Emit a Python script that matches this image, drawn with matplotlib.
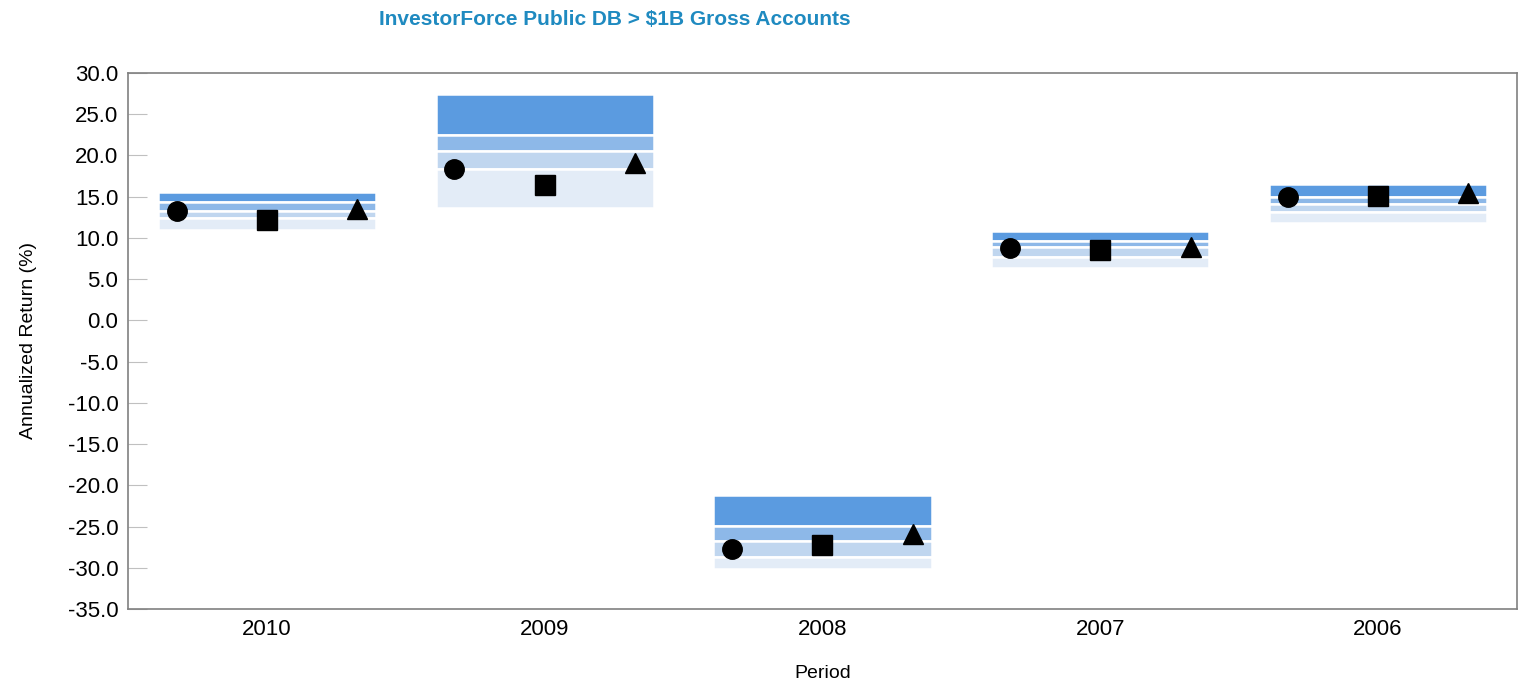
import numpy as np
import matplotlib.pyplot as plt

plt.rcParams['font.family'] = ['Liberation Sans', 'DejaVu Sans']

periods = ['2010', '2009', '2008', '2007', '2006']
# percentile ranges (5th, 25th, median, 75th, 95th)
p05 = [15.6, 27.5, -21.2, 10.8, 16.5]
p25 = [14.4, 22.5, -24.9, 9.6, 15.0]
p50 = [13.3, 20.6, -26.8, 8.85, 14.1]
p75 = [12.4, 18.3, -28.7, 7.7, 13.1]
p95 = [11.0, 13.6, -30.1, 6.3, 11.8]
# portfolio markers
circle_vals = [13.3, 18.4, -27.7, 8.8, 15.0]
square_vals = [12.2, 16.4, -27.2, 8.5, 15.1]
triangle_vals = [13.5, 19.1, -25.9, 8.9, 15.4]

colors = ['#5b9be0', '#8db8e8', '#c0d6ef', '#e3ecf7']

fig = plt.figure(figsize=(15.22, 6.83), dpi=100)
ax = fig.add_axes([0.0841, 0.1084, 0.9126, 0.7847])

x = np.arange(len(periods))
w = 0.785
bands = [(p05, p25), (p25, p50), (p50, p75), (p75, p95)]
for (hi, lo), c in zip(bands, colors):
    hi = np.array(hi)
    lo = np.array(lo)
    ax.bar(x, hi - lo, bottom=lo, width=w, color=c, edgecolor='white', linewidth=1.8, zorder=2)

off = 0.325
ax.plot(x - off, circle_vals, 'o', color='black', ms=14, ls='none', zorder=3)
ax.plot(x, square_vals, 's', color='black', ms=14, ls='none', zorder=3)
ax.plot(x + off, triangle_vals, '^', color='black', ms=15, ls='none', zorder=3)

ax.set_xlim(-0.5, 4.5)
ax.set_ylim(-35, 30)
ax.set_yticks(np.arange(-35, 31, 5))
ax.set_yticklabels(['%.1f' % v for v in np.arange(-35, 31, 5)])
ax.set_xticks(x)
ax.set_xticklabels(periods)
ax.tick_params(axis='y', direction='in', length=14, color='#c0c0c0', labelsize=16, pad=7)
ax.tick_params(axis='x', length=0, labelsize=16, pad=7)
for s in ax.spines.values():
    s.set_color('#808080')
    s.set_linewidth(1.2)

ax.set_ylabel('Annualized Return (%)', fontsize=14, labelpad=22)
ax.set_xlabel('Period', fontsize=14, labelpad=18)

fig.text(0.404, 0.972, 'InvestorForce Public DB > $1B Gross Accounts', ha='center', va='center',
         color='#1f8ac0', fontsize=15, fontweight='bold')

fig.savefig('out.png', dpi=100)
